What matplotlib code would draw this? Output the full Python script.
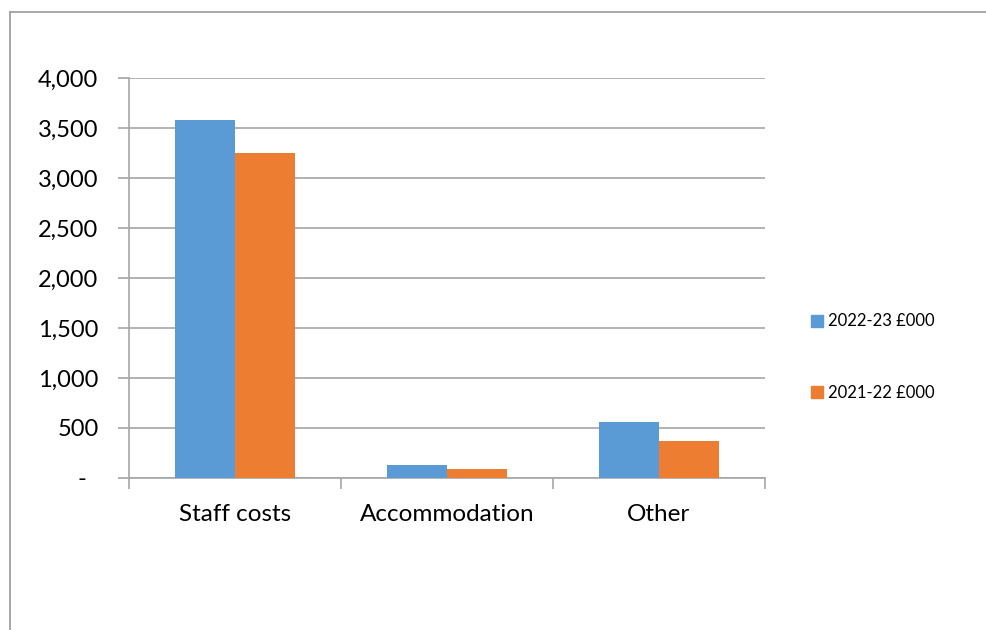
import matplotlib
matplotlib.use("Agg")
import matplotlib.pyplot as plt
import numpy as np
from matplotlib.lines import Line2D
from matplotlib.ticker import FuncFormatter, FixedLocator

categories = ["Staff costs", "Accommodation", "Other"]
series_names = ["2022-23 £000", "2021-22 £000"]
values_2223 = [3580, 127, 557]
values_2122 = [3250, 90, 373]
colors = ["#5B9BD5", "#ED7D31"]

plt.rcParams['font.family'] = ['Lato', 'DejaVu Sans']

fig = plt.figure(figsize=(9.87, 6.3), dpi=100)
W, H = 987, 630
ax = fig.add_axes([129 / W, 1 - 478 / H, (765 - 129) / W, (478 - 78) / H])

x = np.arange(len(categories))
bw = 60 / 212
ax.bar(x - bw / 2, values_2223, bw, color=colors[0], label=series_names[0], zorder=3)
ax.bar(x + bw / 2, values_2122, bw, color=colors[1], label=series_names[1], zorder=3)

ax.set_xlim(-0.5, 2.5)
ax.set_ylim(0, 4000)
grid_c = "#A6A6A6"
ax.set_yticks(np.arange(0, 4001, 500))
ax.yaxis.set_major_formatter(FuncFormatter(lambda v, p: "-  " if v == 0 else f"{int(v):,}"))
ax.grid(axis="y", color=grid_c, linewidth=1.2, zorder=0)
ax.set_xticks(x)
ax.set_xticklabels(categories)
ax.xaxis.set_minor_locator(FixedLocator([-0.5, 0.5, 1.5, 2.5]))
ax.tick_params(axis="x", which="major", length=0, pad=19, labelsize=17.5)
ax.tick_params(axis="x", which="minor", length=8, color=grid_c, width=1.2, direction="out")
ax.tick_params(axis="y", length=8, color=grid_c, width=1.2, labelsize=17, pad=14)
for s in ["top", "right"]:
    ax.spines[s].set_visible(False)
for s in ["left", "bottom"]:
    ax.spines[s].set_color(grid_c)
    ax.spines[s].set_linewidth(1.2)

handles = [plt.Rectangle((0, 0), 1, 1, color=c) for c in colors]
fig.legend(handles, series_names, loc="center left", bbox_to_anchor=(796 / W, 1 - 357 / H),
           frameon=False, fontsize=12, handlelength=0.7, handleheight=0.7,
           handletextpad=0.3, labelspacing=3.3)

# outer border (top and left visible)
fig.add_artist(Line2D([10 / W, 1.0], [1 - 12 / H, 1 - 12 / H], color="#A0A0A0", linewidth=1.3))
fig.add_artist(Line2D([10 / W, 10 / W], [1 - 12 / H, 0], color="#A0A0A0", linewidth=1.3))

fig.savefig("out.png", dpi=100)
